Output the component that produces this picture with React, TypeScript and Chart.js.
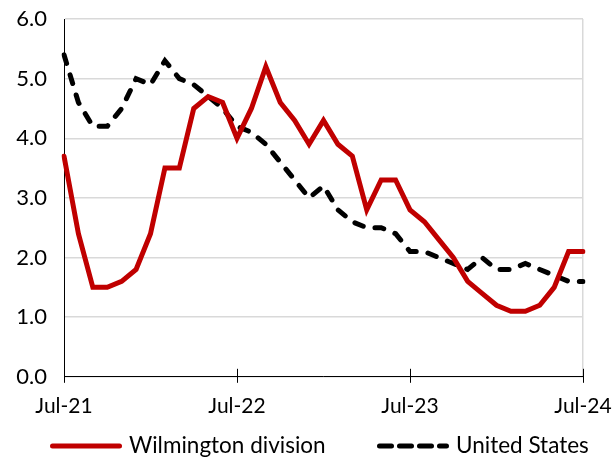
import React, { useEffect, useRef } from "react";
import { Chart, registerables } from "chart.js";

Chart.register(...registerables);

const months = [
  "Jul-21","Aug-21","Sep-21","Oct-21","Nov-21","Dec-21",
  "Jan-22","Feb-22","Mar-22","Apr-22","May-22","Jun-22",
  "Jul-22","Aug-22","Sep-22","Oct-22","Nov-22","Dec-22",
  "Jan-23","Feb-23","Mar-23","Apr-23","May-23","Jun-23",
  "Jul-23","Aug-23","Sep-23","Oct-23","Nov-23","Dec-23",
  "Jan-24","Feb-24","Mar-24","Apr-24","May-24","Jun-24",
  "Jul-24",
];

const shownLabels = ["Jul-21", "Jul-22", "Jul-23", "Jul-24"];

const wilmington = [
  3.7, 2.4, 1.5, 1.5, 1.6, 1.8,
  2.4, 3.5, 3.5, 4.5, 4.7, 4.6,
  4.0, 4.5, 5.2, 4.6, 4.3, 3.9,
  4.3, 3.9, 3.7, 2.8, 3.3, 3.3,
  2.8, 2.6, 2.3, 2.0, 1.6, 1.4,
  1.2, 1.1, 1.1, 1.2, 1.5, 2.1,
  2.1,
];

const unitedStates = [
  5.4, 4.6, 4.2, 4.2, 4.5, 5.0,
  4.9, 5.3, 5.0, 4.9, 4.7, 4.5,
  4.2, 4.1, 3.9, 3.6, 3.3, 3.0,
  3.2, 2.8, 2.6, 2.5, 2.5, 2.4,
  2.1, 2.1, 2.0, 1.9, 1.8, 2.0,
  1.8, 1.8, 1.9, 1.8, 1.7, 1.6,
  1.6,
];

const FONT = "Lato, 'Open Sans', sans-serif";
const LEGEND_X = [50, 377];
const LEGEND_Y = 446;
const LEGEND_LINE = 72;

const crossTicks = {
  id: "crossTicks",
  afterDatasetsDraw(chart: any) {
    const x = chart.scales.x;
    const ctx = chart.ctx;
    const yAxis = chart.chartArea.bottom;
    ctx.save();
    ctx.strokeStyle = "#000000";
    ctx.lineWidth = 1;
    months.forEach((m, i) => {
      if (shownLabels.includes(m)) {
        const px = Math.round(x.getPixelForValue(i)) + 0.5;
        ctx.beginPath();
        ctx.moveTo(px, yAxis - 8);
        ctx.lineTo(px, yAxis + 6);
        ctx.stroke();
      }
    });
    ctx.restore();
  },
};

const bottomLegend = {
  id: "bottomLegend",
  afterDraw(chart: any) {
    const ctx = chart.ctx;
    ctx.save();
    chart.data.datasets.forEach((d: any, i: number) => {
      const x0 = LEGEND_X[i];
      ctx.strokeStyle = d.borderColor;
      ctx.lineWidth = d.borderWidth;
      ctx.lineCap = "round";
      ctx.setLineDash(d.borderDash ? [12, 8] : []);
      ctx.beginPath();
      ctx.moveTo(x0 + 2.5, LEGEND_Y);
      ctx.lineTo(x0 + LEGEND_LINE - 2.5, LEGEND_Y);
      ctx.stroke();
      ctx.setLineDash([]);
      ctx.fillStyle = "#000000";
      ctx.font = `22.5px ${FONT}`;
      ctx.textAlign = "left";
      ctx.textBaseline = "middle";
      ctx.fillText(d.label, x0 + LEGEND_LINE + 7, LEGEND_Y);
    });
    ctx.restore();
  },
};

export default function App() {
  const ref = useRef<HTMLCanvasElement | null>(null);

  useEffect(() => {
    if (!ref.current) return;
    const chart = new Chart(ref.current, {
      type: "line",
      data: {
        labels: months,
        datasets: [
          {
            label: "Wilmington division",
            data: wilmington,
            borderColor: "#C00000",
            backgroundColor: "#C00000",
            borderWidth: 5,
            pointRadius: 0,
            tension: 0,
            borderCapStyle: "round",
          },
          {
            label: "United States",
            data: unitedStates,
            borderColor: "#000000",
            backgroundColor: "#000000",
            borderWidth: 5,
            borderDash: [9, 12],
            borderCapStyle: "round",
            pointRadius: 0,
            tension: 0,
          },
        ],
      },
      options: {
        animation: false,
        responsive: true,
        maintainAspectRatio: false,
        layout: { padding: { left: 8, top: 0, right: 0, bottom: 31 } },
        plugins: {
          tooltip: { enabled: false },
          legend: { display: false },
        },
        scales: {
          x: {
            type: "category",
            offset: false,
            afterFit: (s: any) => {
              s.paddingLeft = 0;
              s.paddingRight = 29;
            },
            border: { display: true, color: "#000000", width: 1 },
            grid: {
              drawOnChartArea: true,
              color: (ctx: any) => (ctx.index === months.length - 1 ? "#d9d9d9" : "rgba(0,0,0,0)"),
              tickColor: "rgba(0,0,0,0)",
              tickLength: 8,
              lineWidth: 1.5,
            },
            ticks: {
              autoSkip: false,
              maxRotation: 0,
              padding: 9,
              color: "#000000",
              font: { family: FONT, size: 21 },
              callback: (_v: any, i: number) => (shownLabels.includes(months[i]) ? months[i] : ""),
            },
          },
          y: {
            min: 0,
            max: 6,
            afterFit: (s: any) => {
              s.width = 56;
              s.paddingTop = 19;
              s.paddingBottom = 0;
            },
            border: { display: true, color: "#000000", width: 1 },
            grid: { color: "#d9d9d9", lineWidth: 1.5, drawTicks: false, tickLength: 0 },
            ticks: {
              stepSize: 1,
              padding: 17,
              color: "#000000",
              font: { family: FONT, size: 22 },
              callback: (v: any) => Number(v).toFixed(1),
            },
          },
        },
      },
      plugins: [crossTicks, bottomLegend],
    });
    return () => chart.destroy();
  }, []);

  return (
    <div style={{ position: "absolute", left: 0, top: 0, width: 612, height: 459 }}>
      <canvas ref={ref} />
    </div>
  );
}
